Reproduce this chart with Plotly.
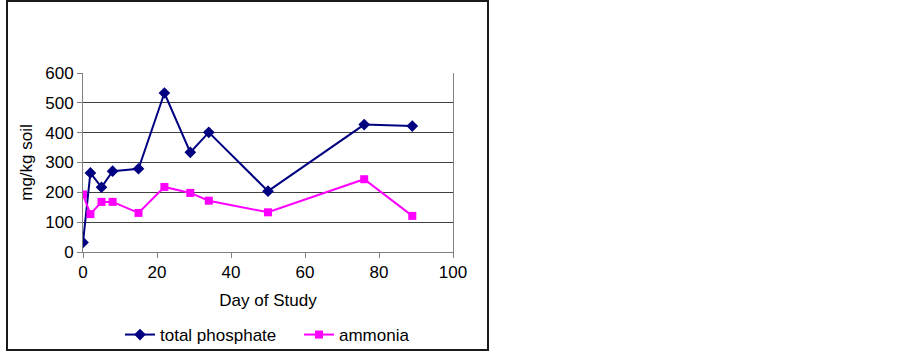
import plotly.graph_objects as go

days_phosphate = [0, 2, 5, 8, 15, 22, 29, 34, 50, 76, 89]
total_phosphate = [32, 265, 217, 271, 279, 533, 334, 401, 204, 427, 422]
days_ammonia = [0, 2, 5, 8, 15, 22, 29, 34, 50, 76, 89]
ammonia = [193, 127, 168, 168, 131, 218, 198, 172, 133, 244, 121]
x_ticks = [0, 20, 40, 60, 80, 100]
y_ticks = [0, 100, 200, 300, 400, 500, 600]

W, H = 903, 352
L, R, T, B = 83, 453, 73, 252  # plot area in pixels

FONT = "Liberation Sans, Arial, sans-serif"
FS = 17

fig = go.Figure()
fig.add_trace(go.Scatter(
    x=days_phosphate, y=total_phosphate, name="total phosphate",
    mode="lines+markers",
    line=dict(color="#000080", width=2),
    marker=dict(symbol="diamond", size=9, color="#000080"),
))
fig.add_trace(go.Scatter(
    x=days_ammonia, y=ammonia, name="ammonia",
    mode="lines+markers",
    line=dict(color="#FF00FF", width=2),
    marker=dict(symbol="square", size=8, color="#FF00FF"),
))

def px_x(p):
    return (p - L) / (R - L)

def px_y(p):
    return (B - p) / (B - T)

fig.update_layout(
    width=W, height=H,
    margin=dict(l=L, r=W - R, t=T, b=H - B, autoexpand=False),
    paper_bgcolor="white", plot_bgcolor="white",
    font=dict(family=FONT, size=FS, color="#000000"),
    showlegend=True,
    legend=dict(
        orientation="h", x=px_x(120), y=px_y(317), xanchor="left", yanchor="top",
        font=dict(size=FS), itemwidth=30, tracegroupgap=0,
        entrywidth=134, entrywidthmode="pixels",
        bgcolor="rgba(0,0,0,0)",
    ),
    xaxis=dict(
        range=[0, 100], tickvals=x_ticks, ticks="outside", ticklen=5,
        tickcolor="#808080", showline=True, linecolor="#808080", linewidth=1,
        showgrid=False, zeroline=False, mirror=False, automargin=False,
        title=dict(text="Day of Study", standoff=12, font=dict(size=FS)),
        tickfont=dict(size=FS),
    ),
    yaxis=dict(
        range=[0, 600], tickvals=y_ticks, ticks="outside", ticklen=5,
        tickcolor="#808080", showline=True, linecolor="#808080", linewidth=1,
        showgrid=True, gridcolor="#404040", gridwidth=1, zeroline=False,
        mirror=True, automargin=False,
        title=dict(text="mg/kg soil", standoff=8, font=dict(size=FS)),
        tickfont=dict(size=FS),
    ),
    shapes=[
        dict(type="rect", xref="paper", yref="paper",
             x0=px_x(7), x1=px_x(488), y0=px_y(350), y1=px_y(1),
             line=dict(color="#1a1a1a", width=2), layer="below"),
    ],
)

fig.write_html(
    "out.html",
    config={"displayModeBar": False},
    post_script="document.body.style.margin='0';document.body.style.overflow='hidden';",
)
